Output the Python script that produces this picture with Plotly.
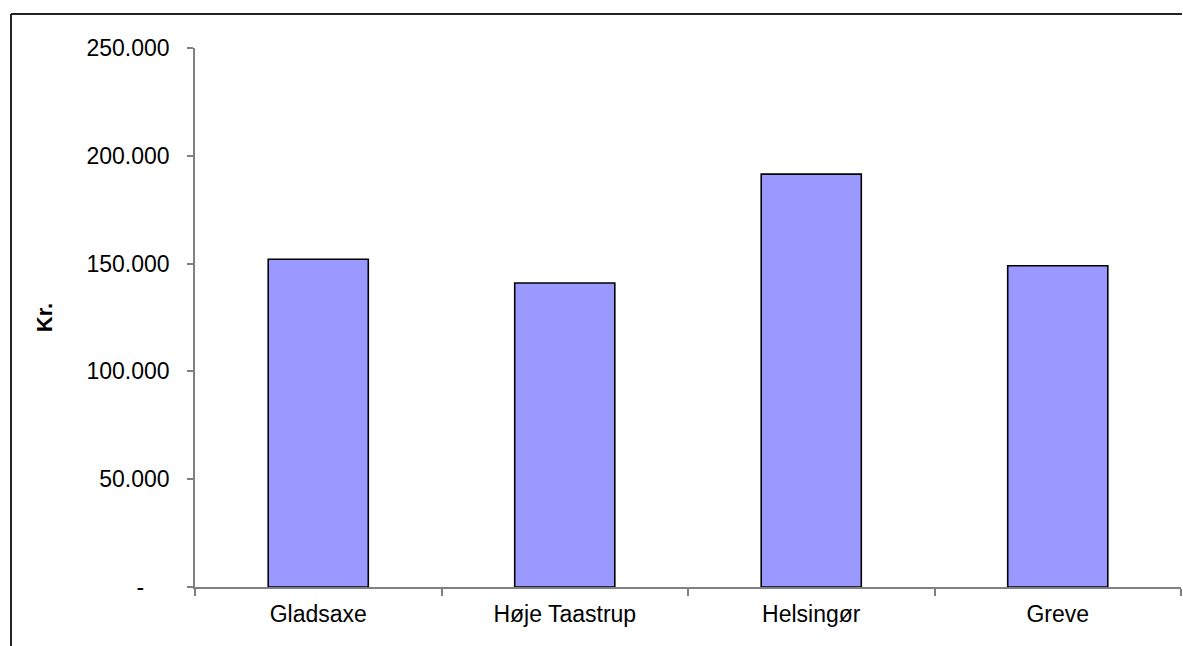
import plotly.graph_objects as go

categories = ["Gladsaxe", "Høje Taastrup", "Helsingør", "Greve"]
values = [152000, 141000, 191500, 149000]
y_tickvals = [0, 50000, 100000, 150000, 200000, 250000]
y_ticktext = ["-\u00a0\u00a0\u00a0\u00a0", "50.000", "100.000", "150.000", "200.000", "250.000"]
y_title = "Kr."

W, H = 1183, 646
L, R, T, B = 195, 2, 48, 59
pw, ph = W - L - R, H - T - B

fig = go.Figure(go.Bar(
    x=categories, y=values,
    marker=dict(color="#9999FF", line=dict(color="#000000", width=1.6)),
))

axis_font = dict(family="Liberation Sans, Arial, sans-serif", size=23, color="#000000")

fig.update_layout(
    width=W, height=H,
    margin=dict(l=L, r=R, t=T, b=B, pad=0),
    paper_bgcolor="white", plot_bgcolor="white",
    bargap=0.594,
    showlegend=False,
    font=axis_font,
    xaxis=dict(
        showline=True, linecolor="#808080", linewidth=1.5,
        ticks="outside", tickson="boundaries", ticklen=7, tickcolor="#808080", tickwidth=1.5,
        showgrid=False, tickfont=axis_font, ticklabelstandoff=6,
    ),
    yaxis=dict(
        range=[0, 250000], tickvals=y_tickvals, ticktext=y_ticktext,
        showline=True, linecolor="#808080", linewidth=1.5,
        ticks="outside", ticklen=6, tickcolor="#808080", tickwidth=1.5,
        showgrid=False, zeroline=False, tickfont=axis_font, ticklabelstandoff=13,
        title=dict(text="<b>" + y_title + "</b>", font=dict(family="Liberation Sans, Arial, sans-serif", size=22, color="#000000"), standoff=28),
    ),
)

# outer chart-area frame: only its left and top edges fall inside the window
x0 = (11 - L) / pw
y1 = 1 + (T - 14) / ph
frame = dict(color="#222222", width=2)
fig.add_shape(type="line", xref="paper", yref="paper", x0=x0, x1=x0, y0=-0.3, y1=y1, line=frame, layer="below")
fig.add_shape(type="line", xref="paper", yref="paper", x0=x0, x1=1.0 + 1.0 / pw, y0=y1, y1=y1, line=frame, layer="below")

fig.write_html("out.html", config={"displayModeBar": False},
               post_script="document.body.style.margin='0';document.body.style.overflow='hidden';")
